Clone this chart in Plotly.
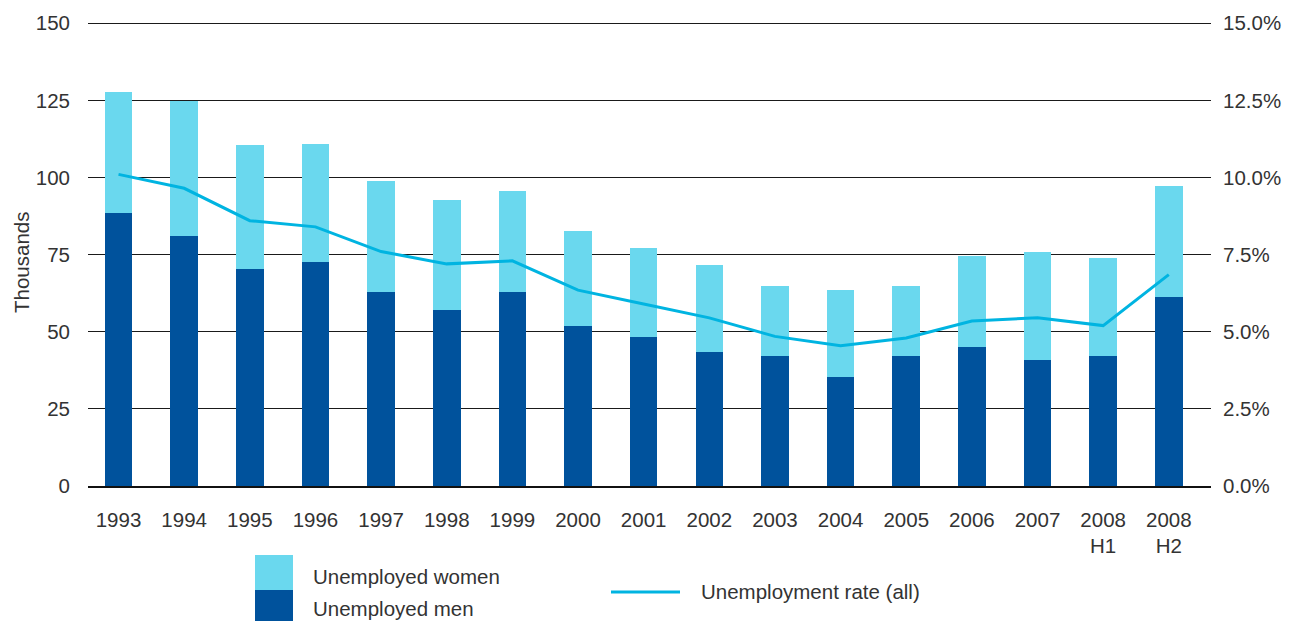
import plotly.graph_objects as go

categories = ["1993", "1994", "1995", "1996", "1997", "1998", "1999", "2000",
              "2001", "2002", "2003", "2004", "2005", "2006", "2007",
              "2008<br>H1", "2008<br>H2"]
men = [88.5, 81, 70.5, 72.7, 63, 57.2, 63, 52, 48.2, 43.3, 42, 35.2, 42, 44.9, 41, 42, 61.4]
total = [127.7, 124.8, 110.6, 110.9, 98.9, 92.8, 95.7, 82.8, 77, 71.5, 64.7, 63.4, 64.7, 74.7, 75.7, 74, 97.3]
women = [round(t - m, 1) for t, m in zip(total, men)]
rate = [10.1, 9.65, 8.6, 8.4, 7.6, 7.2, 7.3, 6.35, 5.9, 5.45, 4.85, 4.55, 4.8, 5.35, 5.45, 5.2, 6.85]

left_ticks = [0, 25, 50, 75, 100, 125, 150]
right_ticks = [0, 2.5, 5, 7.5, 10, 12.5, 15]
right_labels = ["0.0%", "2.5%", "5.0%", "7.5%", "10.0%", "12.5%", "15.0%"]

MEN_C = "#00529C"
WOMEN_C = "#6AD8EE"
LINE_C = "#00B4E1"
TXT = "#333333"
FONT = "Liberation Sans, Arial, sans-serif"
FS = 20.5

fig = go.Figure()
fig.add_trace(go.Bar(x=categories, y=men, name="Unemployed men",
                     marker=dict(color=MEN_C, line=dict(width=0)), width=0.42))
fig.add_trace(go.Bar(x=categories, y=women, name="Unemployed women",
                     marker=dict(color=WOMEN_C, line=dict(width=0)), width=0.42))
fig.add_trace(go.Scatter(x=categories, y=rate, name="Unemployment rate (all)",
                         mode="lines", line=dict(color=LINE_C, width=3), yaxis="y2"))

# page body has an 8px margin: plot area lands at x 88..1211, y 22..486 in the window
fig.update_layout(
    width=1294, height=621,
    barmode="stack",
    showlegend=False,
    plot_bgcolor="white", paper_bgcolor="white",
    margin=dict(l=80, r=91, t=14, b=143),
    font=dict(family=FONT, size=FS, color=TXT),
    xaxis=dict(type="category", range=[-0.465, 16.643], showgrid=False,
               showline=True, linecolor="#111111", linewidth=2,
               ticks="", ticklabelstandoff=14, automargin=False,
               tickfont=dict(family=FONT, size=FS, color=TXT)),
    yaxis=dict(range=[0, 150.4], tickvals=left_ticks, showgrid=True,
               gridcolor="#1a1a1a", gridwidth=1.4, zeroline=False,
               showline=False, ticks="", ticklabelstandoff=17, automargin=False,
               tickfont=dict(family=FONT, size=FS, color=TXT)),
    yaxis2=dict(range=[0, 15.04], tickvals=right_ticks, ticktext=right_labels,
                overlaying="y", side="right", automargin=False,
                showgrid=False, zeroline=False, showline=False, ticks="",
                ticklabelstandoff=11,
                tickfont=dict(family=FONT, size=FS, color=TXT)),
)

# custom legend and axis title (positions given in window pixels, converted to paper units)
PW, PH = 1123, 464
X0, Y0 = 88, 486
def px(x):
    return (x - X0) / PW
def py(y):
    return -(y - Y0) / PH

fig.add_annotation(text="Thousands", xref="paper", yref="paper",
                   x=px(21), y=py(263), textangle=-90,
                   xanchor="center", yanchor="middle", showarrow=False,
                   font=dict(family=FONT, size=FS, color=TXT))

fig.add_shape(type="rect", xref="paper", yref="paper",
              x0=px(255), x1=px(293), y0=py(590), y1=py(555),
              fillcolor=WOMEN_C, line=dict(width=0))
fig.add_shape(type="rect", xref="paper", yref="paper",
              x0=px(255), x1=px(293), y0=py(625), y1=py(590),
              fillcolor=MEN_C, line=dict(width=0))
fig.add_shape(type="line", xref="paper", yref="paper",
              x0=px(611), x1=px(680), y0=py(592), y1=py(592),
              line=dict(color=LINE_C, width=3))
for txt, xp, yp in [("Unemployed women", 311, 576), ("Unemployed men", 311, 608),
                    ("Unemployment rate (all)", 699, 591)]:
    fig.add_annotation(text=txt, xref="paper", yref="paper",
                       x=px(xp), y=py(yp),
                       xanchor="left", yanchor="middle", showarrow=False,
                       font=dict(family=FONT, size=FS, color=TXT))

fig.write_html("out.html")
